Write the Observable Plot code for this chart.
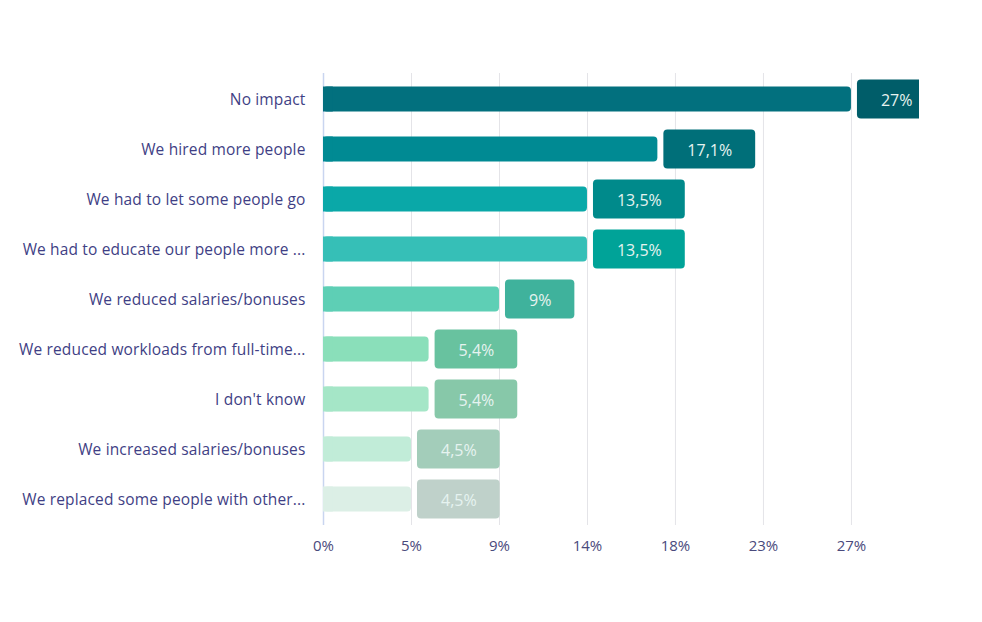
<!DOCTYPE html>
<html>
<head>
<meta charset="utf-8">
<script src="https://cdn.jsdelivr.net/npm/d3@7"></script>
<script src="https://cdn.jsdelivr.net/npm/@observablehq/plot@0.6"></script>
<style>
  html, body { margin: 0; padding: 0; background: #ffffff; }
  #chart { width: 982px; height: 622px; }
  #chart svg g[aria-label="y-axis tick label"] text { letter-spacing: 0.15px; }
</style>
</head>
<body>
<div id="chart"></div>
<script>
const categories = [
  "No impact",
  "We hired more people",
  "We had to let some people go",
  "We had to educate our people more ...",
  "We reduced salaries/bonuses",
  "We reduced workloads from full-time...",
  "I don't know",
  "We increased salaries/bonuses",
  "We replaced some people with other..."
];
const values = [27, 17.1, 13.5, 13.5, 9, 5.4, 5.4, 4.5, 4.5];
const barColors = ["#02707e", "#008a93", "#0aa8a8", "#36bfb7", "#5ecfb5", "#8adfba", "#a5e6c7", "#c1ecd8", "#dcefe6"];
const boxColors = ["#005d69", "#006f79", "#008a8b", "#00a398", "#3fb29c", "#68c29f", "#87c8a9", "#a3cdba", "#bfd1ca"];
const xTicks = [0, 4.5, 9, 13.5, 18, 22.5, 27];

const W = 982, H = 622;
const mLeft = 323, mRight = 63, mTop = 73, mBottom = 97;
const xMax = 30.48;
const pxPerUnit = (W - mLeft - mRight) / xMax;
const FONT = "'Open Sans', sans-serif";

const fmt = v => String(v).replace(".", ",") + "%";
// measure label text width to size the boxes
const ctx = document.createElement("canvas").getContext("2d");
ctx.font = "16px 'Open Sans'";
const data = categories.map((c, i) => {
  const label = fmt(values[i]);
  const tw = ctx.measureText(label).width;
  const boxPx = tw + 47;
  return {
    category: c,
    value: values[i],
    label,
    bar: barColors[i],
    box: boxColors[i],
    boxEnd: values[i] + (boxPx + 6) / pxPerUnit,
    boxMid: values[i] + (boxPx / 2 + 6) / pxPerUnit
  };
});

const chart = Plot.plot({
  width: W,
  height: H,
  marginLeft: mLeft,
  marginRight: mRight,
  marginTop: mTop,
  marginBottom: mBottom,
  style: { fontFamily: FONT, fontSize: "15px", background: "#ffffff", overflow: "visible" },
  x: { domain: [0, xMax], ticks: xTicks, tickFormat: d => Math.round(d) + "%", label: null, tickSize: 0, tickPadding: 14 },
  y: { domain: categories, label: null, tickSize: 0, tickPadding: 18, padding: 0 },
  marks: [
    Plot.gridX(xTicks, { stroke: "#e4e4e8", strokeOpacity: 1, strokeWidth: 1 }),
    Plot.ruleX([0], { stroke: "#c9d5f0", strokeWidth: 1.5 }),
    Plot.barX(data, { y: "category", x1: 0, x2: "value", fill: "bar", rx: 4, insetTop: 12.5, insetBottom: 12.5 }),
    Plot.barX(data, { y: "category", x1: 0, x2: d => Math.min(d.value, 0.5), fill: "bar", insetTop: 12.5, insetBottom: 12.5 }),
    Plot.barX(data, { y: "category", x1: "value", x2: "boxEnd", fill: "box", rx: 4, insetLeft: 6, insetTop: 5.5, insetBottom: 5.5, clip: true }),
    Plot.text(data, { y: "category", x: "boxMid", dy: 1, text: "label", fill: "#e6f3f0", fontSize: 16, clip: true }),
    Plot.axisX({ ticks: xTicks, tickFormat: d => Math.round(d) + "%", tickSize: 0, tickPadding: 14.5, fill: "#4a4a7c", fontSize: 15, label: null }),
    Plot.axisY({ tickSize: 0, tickPadding: 18, dy: 1, fill: "#3f3f85", fontSize: 15.5, label: null })
  ]
});
document.getElementById("chart").appendChild(chart);
</script>
</body>
</html>
